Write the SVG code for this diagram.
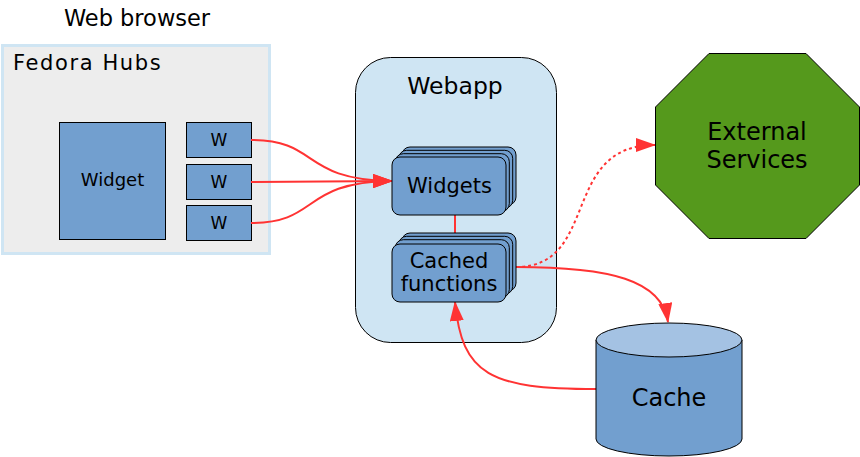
<svg xmlns="http://www.w3.org/2000/svg" width="860" height="457" viewBox="0 0 860 457">
<defs>
<marker id="ah" markerWidth="20" markerHeight="14" refX="19" refY="7" orient="auto" markerUnits="userSpaceOnUse">
<path d="M0,0 L20,7 L0,14 Z" fill="#ff3333"/>
</marker>
<style>
text{font-family:"DejaVu Sans",sans-serif;fill:#000;text-anchor:middle}
.blue{fill:#729fcf;stroke:#000;stroke-width:1}
.con{fill:none;stroke:#ff3333;stroke-width:2}
</style>
</defs>
<rect width="860" height="457" fill="#fff"/>
<g id="browser">
<text x="137" y="26" font-size="22.5">Web browser</text>
<rect x="2.5" y="45.5" width="267" height="208" fill="#ededed" stroke="#cfe5f3" stroke-width="3"/>
<text x="13" y="70" font-size="21" style="text-anchor:start;letter-spacing:1.6px">Fedora Hubs</text>
</g>
<g id="widget">
<rect class="blue" x="59.5" y="122.5" width="106" height="117"/>
<text x="112.5" y="186" font-size="18">Widget</text>
</g>
<g id="w1"><rect class="blue" x="186.5" y="122.5" width="65" height="35"/><text x="219" y="146" font-size="17">W</text></g>
<g id="w2"><rect class="blue" x="186.5" y="164.5" width="65" height="35"/><text x="219" y="188" font-size="17">W</text></g>
<g id="w3"><rect class="blue" x="186.5" y="205.5" width="65" height="35"/><text x="219" y="229" font-size="17">W</text></g>
<g id="webapp">
<rect x="355.5" y="57.5" width="201" height="285" rx="35" fill="#cfe5f3" stroke="#000" stroke-width="1"/>
<text x="455" y="94" font-size="23.5">Webapp</text>
</g>
<g id="connectors">
<path class="con" d="M455,215 L455,236"/>
<path class="con" d="M251,140 C320,140 300,180 392,181" marker-end="url(#ah)"/>
<path class="con" d="M251,182 L392,181" marker-end="url(#ah)"/>
<path class="con" d="M251,223 C320,223 300,182 392,181" marker-end="url(#ah)"/>
<path class="con" d="M516,267 C600,267 560,145 655,145" stroke-dasharray="3,3" marker-end="url(#ah)"/>
<path class="con" d="M516,267 C610,267 662,280 668,322" marker-end="url(#ah)"/>
<path class="con" d="M596,389 C490,389 462,375 455,302" marker-end="url(#ah)"/>
</g>
<g id="widgets">
<rect class="blue" x="402" y="147" width="114" height="58" rx="8"/>
<rect class="blue" x="398.7" y="150.3" width="114" height="58" rx="8"/>
<rect class="blue" x="395.3" y="153.7" width="114" height="58" rx="8"/>
<rect class="blue" x="392" y="157" width="114" height="58" rx="8"/>
<text x="449.5" y="193" font-size="21">Widgets</text>
</g>
<g id="cached">
<rect class="blue" x="402" y="233" width="114" height="58" rx="8"/>
<rect class="blue" x="398.7" y="236.3" width="114" height="58" rx="8"/>
<rect class="blue" x="395.3" y="239.7" width="114" height="58" rx="8"/>
<rect class="blue" x="392" y="244" width="114" height="58" rx="8"/>
<text x="449" y="268" font-size="21">Cached</text>
<text x="449" y="291" font-size="21">functions</text>
</g>
<g id="external">
<polygon points="709,53.5 806,53.5 859.5,107 859.5,185 806,238.5 709,238.5 655.5,185 655.5,107" fill="#55991c" stroke="#000" stroke-width="1"/>
<text x="757" y="140" font-size="24">External</text>
<text x="757" y="168" font-size="24">Services</text>
</g>
<g id="cache">
<path d="M596,340 L596,439 A73,17 0 0 0 742,439 L742,340 Z" fill="#729fcf" stroke="#000" stroke-width="1"/>
<ellipse cx="669" cy="340" rx="73" ry="17" fill="#a4c2e3" stroke="#000" stroke-width="1"/>
<text x="669" y="406" font-size="24">Cache</text>
</g>
</svg>
